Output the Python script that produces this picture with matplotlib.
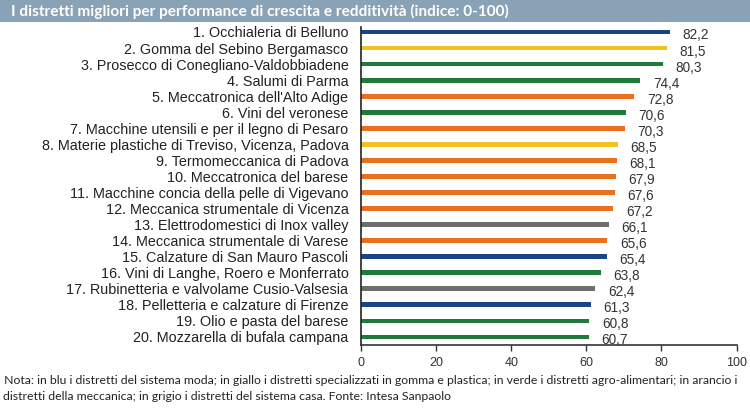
import matplotlib
matplotlib.use("Agg")
import matplotlib.pyplot as plt
from matplotlib.patches import Rectangle

categories = [
    "1. Occhialeria di Belluno",
    "2. Gomma del Sebino Bergamasco",
    "3. Prosecco di Conegliano-Valdobbiadene",
    "4. Salumi di Parma",
    "5. Meccatronica dell'Alto Adige",
    "6. Vini del veronese",
    "7. Macchine utensili e per il legno di Pesaro",
    "8. Materie plastiche di Treviso, Vicenza, Padova",
    "9. Termomeccanica di Padova",
    "10. Meccatronica del barese",
    "11. Macchine concia della pelle di Vigevano",
    "12. Meccanica strumentale di Vicenza",
    "13. Elettrodomestici di Inox valley",
    "14. Meccanica strumentale di Varese",
    "15. Calzature di San Mauro Pascoli",
    "16. Vini di Langhe, Roero e Monferrato",
    "17. Rubinetteria e valvolame Cusio-Valsesia",
    "18. Pelletteria e calzature di Firenze",
    "19. Olio e pasta del barese",
    "20. Mozzarella di bufala campana",
]
values = [82.2, 81.5, 80.3, 74.4, 72.8, 70.6, 70.3, 68.5, 68.1, 67.9,
          67.6, 67.2, 66.1, 65.6, 65.4, 63.8, 62.4, 61.3, 60.8, 60.7]
sectors = ["moda", "gomma", "agro", "agro", "mecc", "agro", "mecc", "gomma", "mecc", "mecc",
           "mecc", "mecc", "casa", "mecc", "moda", "agro", "casa", "moda", "agro", "agro"]
sector_colors = {"moda": "#1a4585", "gomma": "#f0c324", "agro": "#1e7b3b",
                 "mecc": "#e8701f", "casa": "#6e6e6e"}
xticks = [0, 20, 40, 60, 80, 100]

title = "I distretti migliori per performance di crescita e redditività (indice: 0-100)"
note1 = " Nota: in blu i distretti del sistema moda; in giallo i distretti specializzati in gomma e plastica; in verde i distretti agro-alimentari; in arancio i"
note2 = "distretti della meccanica; in grigio i distretti del sistema casa. Fonte: Intesa Sanpaolo"

W, H = 750, 416
fig = plt.figure(figsize=(7.5, 4.16), dpi=100)

# title bar
fig.patches.append(Rectangle((0, 1 - 22 / H), 1, 22 / H, transform=fig.transFigure,
                             facecolor="#8aa2b6", edgecolor="none", zorder=0))
fig.text(11 / W, 1 - 11.5 / H, title, color="white", fontsize=11.1, fontweight="bold",
         family="Lato", va="center", ha="left")

ax = fig.add_axes([361 / W, 1 - 345 / H, (736.5 - 361) / W, (345 - 27) / H])
y = list(range(len(categories)))
ax.barh(y, values, height=0.3, color=[sector_colors[s] for s in sectors])
ax.set_ylim(19.5, -0.31)
ax.set_xlim(0, 100)
ax.set_yticks(y)
ax.set_yticklabels(categories, fontsize=10.4, color="#222222", family="Liberation Sans")
ax.tick_params(axis="y", length=0, pad=9)
ax.set_xticks(xticks)
ax.set_xticklabels([str(t) for t in xticks], fontsize=9, color="#333333",
                   family="Liberation Sans")
ax.tick_params(axis="x", length=4, width=1, direction="out", color="#333333", pad=5)
for s in ["top", "right"]:
    ax.spines[s].set_visible(False)
ax.spines["left"].set_color("#222222")
ax.spines["bottom"].set_color("#333333")
ax.spines["left"].set_linewidth(1.2)
ax.spines["bottom"].set_linewidth(1.2)

for yi, v in zip(y, values):
    ax.annotate(f"{v:.1f}".replace(".", ","), (v, yi), xytext=(9, -2.5),
                textcoords="offset points", ha="left", va="center",
                fontsize=9.8, color="#333333", family="Liberation Sans",
                annotation_clip=False)

fig.text(1 / W, 1 - 381 / H, note1, fontsize=8.8, color="#222222", family="Lato",
         va="center", ha="left")
fig.text(3 / W, 1 - 397 / H, note2, fontsize=8.8, color="#222222", family="Lato",
         va="center", ha="left")

fig.savefig("out.png", dpi=100)
